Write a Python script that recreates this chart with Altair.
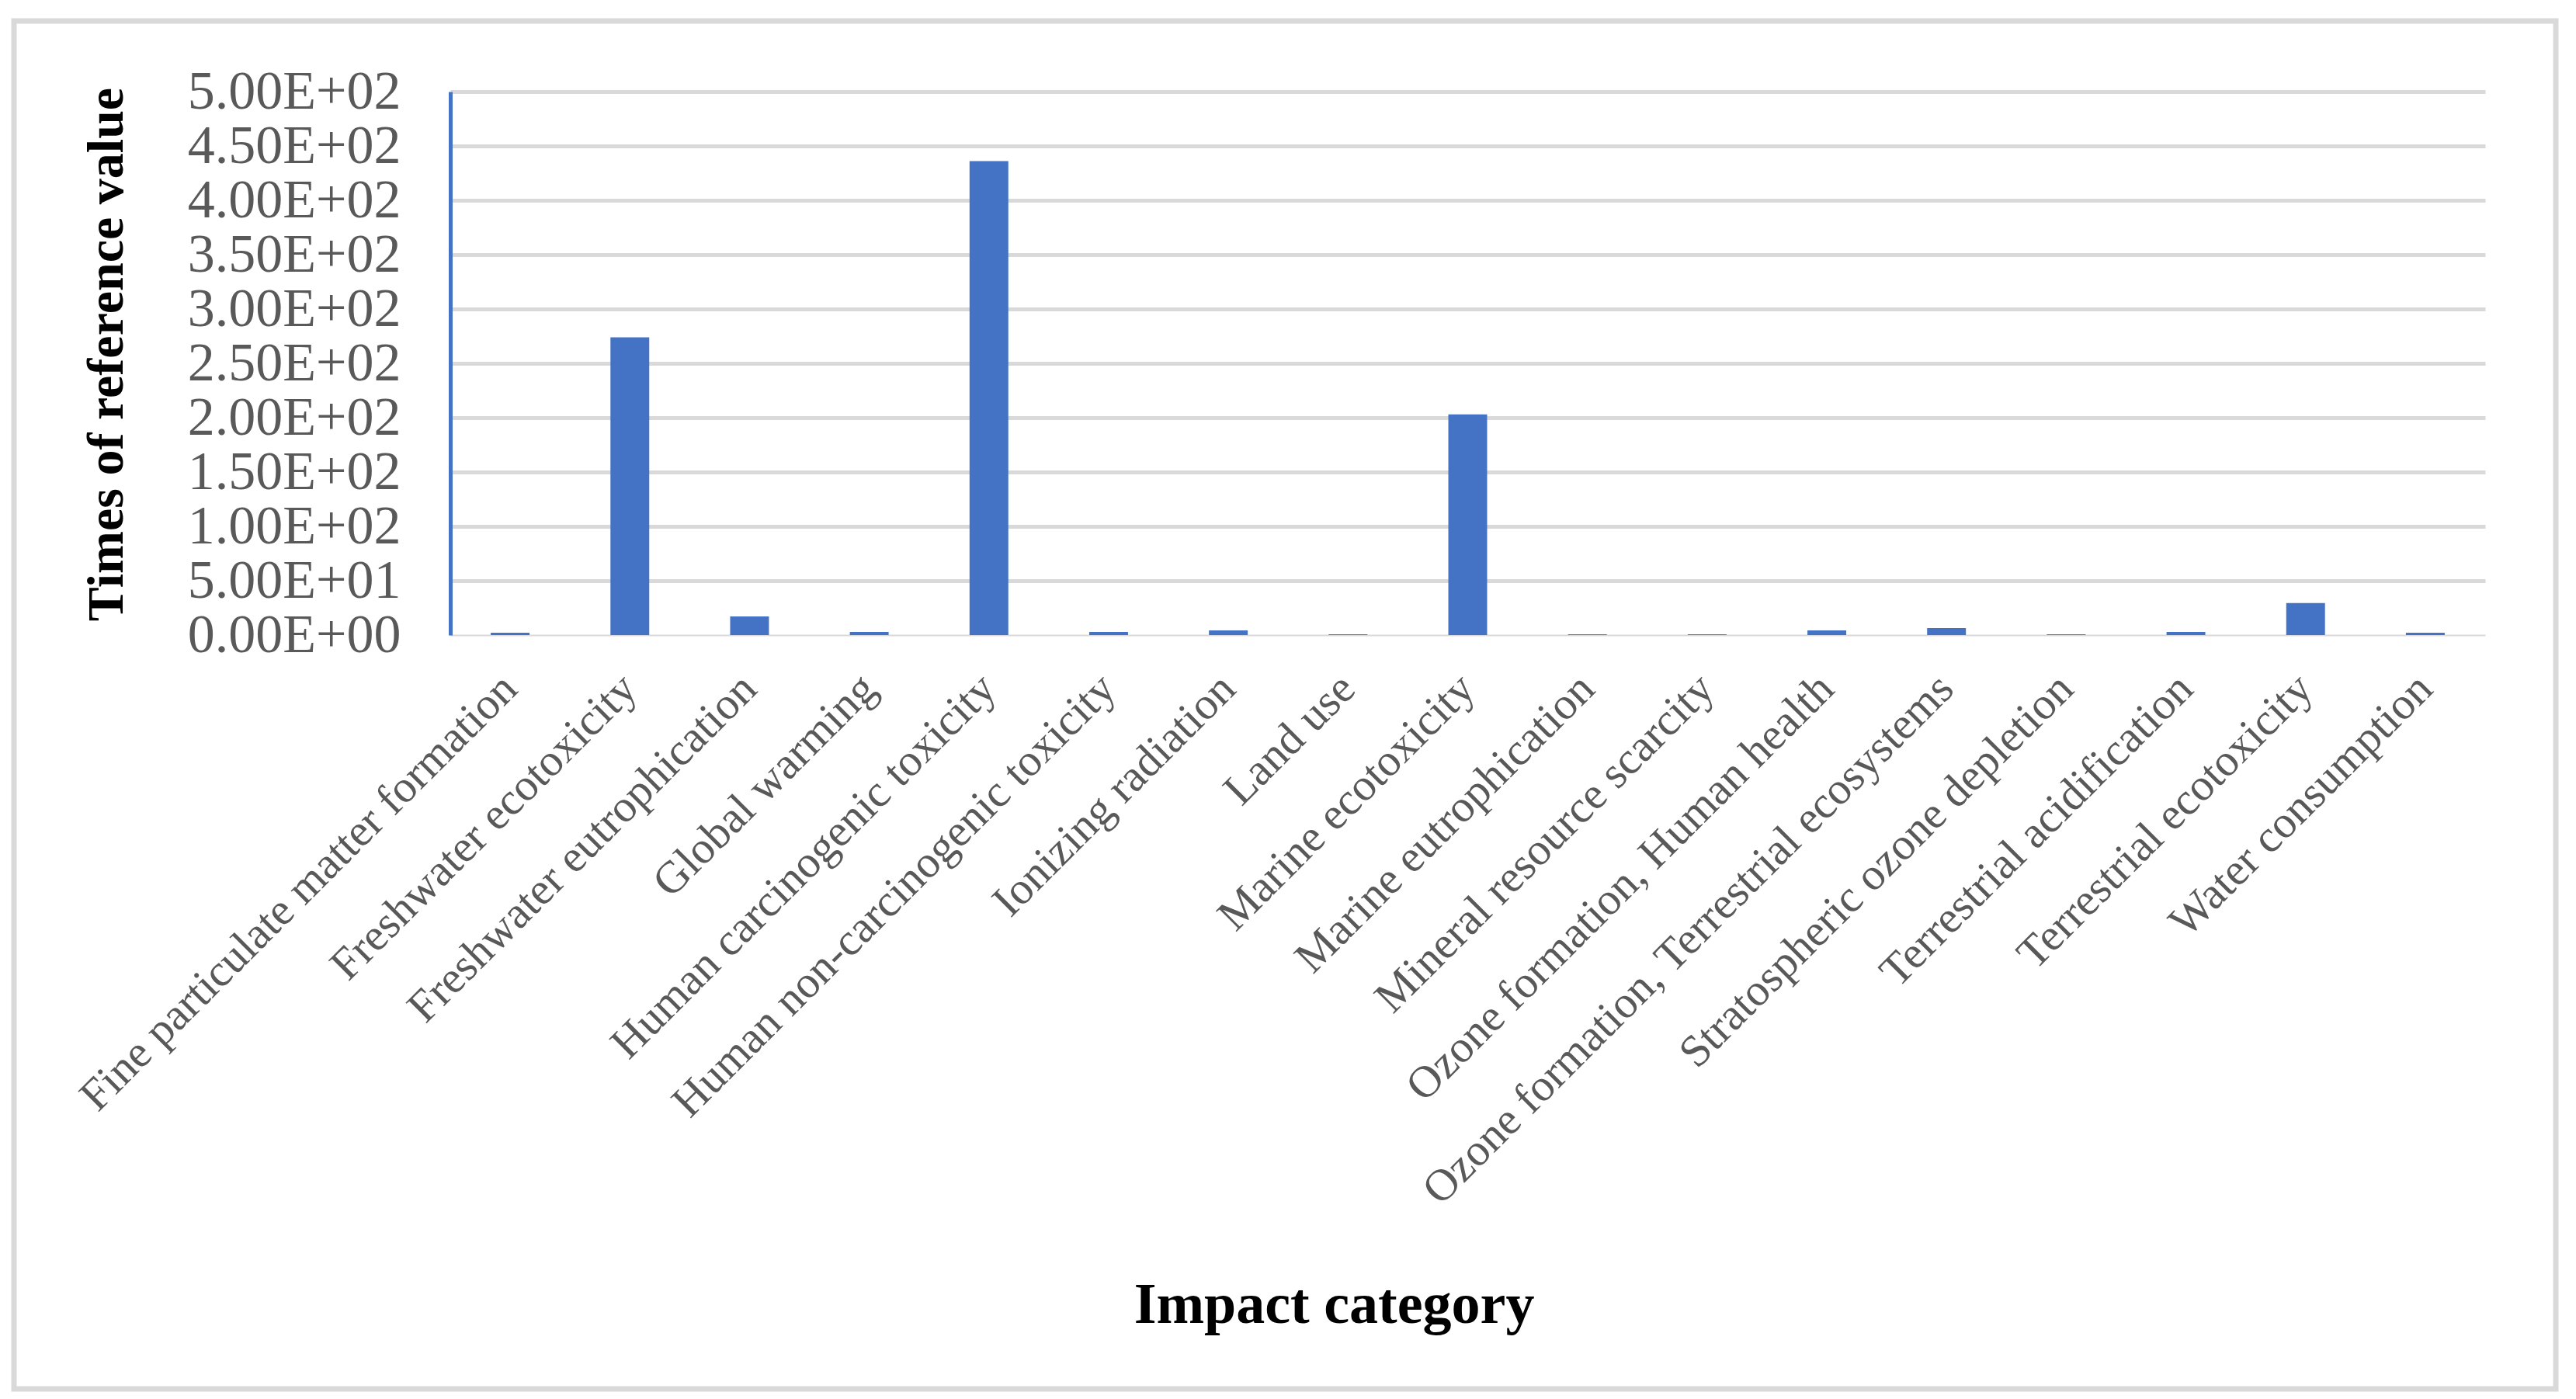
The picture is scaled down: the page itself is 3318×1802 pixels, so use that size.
import altair as alt
import pandas as pd

categories = [
    "Fine particulate matter formation",
    "Freshwater ecotoxicity",
    "Freshwater eutrophication",
    "Global warming",
    "Human carcinogenic toxicity",
    "Human non-carcinogenic toxicity",
    "Ionizing radiation",
    "Land use",
    "Marine ecotoxicity",
    "Marine eutrophication",
    "Mineral resource scarcity",
    "Ozone formation, Human health",
    "Ozone formation, Terrestrial ecosystems",
    "Stratospheric ozone depletion",
    "Terrestrial acidification",
    "Terrestrial ecotoxicity",
    "Water consumption",
]
values = [2.2, 274, 17.2, 2.9, 436, 2.9, 4.3, 0.7, 203, 0.7, 0.7, 4.3, 6.5, 0.7, 2.9, 29.4, 2.2]
y_ticks = [0, 50, 100, 150, 200, 250, 300, 350, 400, 450, 500]

FONT = "Liberation Serif"

df = pd.DataFrame({"category": categories, "value": values})
frame_df = pd.DataFrame({"k": [0]})

frame = alt.Chart(frame_df).mark_rect(
    fillOpacity=0, stroke="#d9d9d9", strokeWidth=7
).encode(
    x=alt.value(-562), x2=alt.value(2712), y=alt.value(-91), y2=alt.value(1671)
)

bars = alt.Chart(df).mark_bar(color="#4472c4").encode(
    x=alt.X(
        "category:N",
        sort=categories,
        scale=alt.Scale(paddingInner=0.676, paddingOuter=0.338),
        axis=alt.Axis(
            title="Impact category",
            labelAngle=315,
            labelAlign="right",
            labelBaseline="middle",
            labelPadding=60,
            labelOffset=0,
            labelFontSize=58,
            labelFont=FONT,
            labelColor="#595959",
            labelLimit=3000,
            labelOverlap=False,
            ticks=False,
            tickSize=0,
            domainColor="#d9d9d9",
            domainWidth=2,
            titleFont=FONT,
            titleFontSize=74,
            titleFontWeight="bold",
            titleColor="black",
            titleX=1138,
            titleY=885,
            titleAlign="center",
            titleBaseline="alphabetic",
            titleLimit=3000,
        ),
    ),
    y=alt.Y(
        "value:Q",
        scale=alt.Scale(domain=[0, 500], nice=False),
        axis=alt.Axis(
            title="Times of reference value",
            values=y_ticks,
            labelExpr="replace(format(datum.value, '.2e'), 'e+', 'E+0')",
            labelFont=FONT,
            labelFontSize=70,
            labelColor="#595959",
            labelPadding=64,
            labelLimit=2000,
            labelOverlap=False,
            labelFlush=False,
            ticks=False,
            tickSize=0,
            domainColor="#4472c4",
            domainWidth=5,
            gridColor="#d9d9d9",
            gridWidth=5,
            gridOpacity={"condition": {"test": "datum.value === 0", "value": 0}, "value": 1},
            titleFont=FONT,
            titleFontSize=66,
            titleFontWeight="bold",
            titleColor="black",
            titleAngle=270,
            titleX=-423,
            titleY=338,
            titleAlign="center",
            titleBaseline="alphabetic",
            titleLimit=3000,
        ),
    ),
)

chart = alt.layer(frame, bars).properties(
    width=2621,
    height=700,
    autosize=alt.AutoSizeParams(type="none"),
    padding={"left": 572, "top": 110, "right": 99, "bottom": 977},
    background="white",
).configure_view(strokeWidth=0)

chart.save("out.html", embed_options={"renderer": "svg", "actions": False})
